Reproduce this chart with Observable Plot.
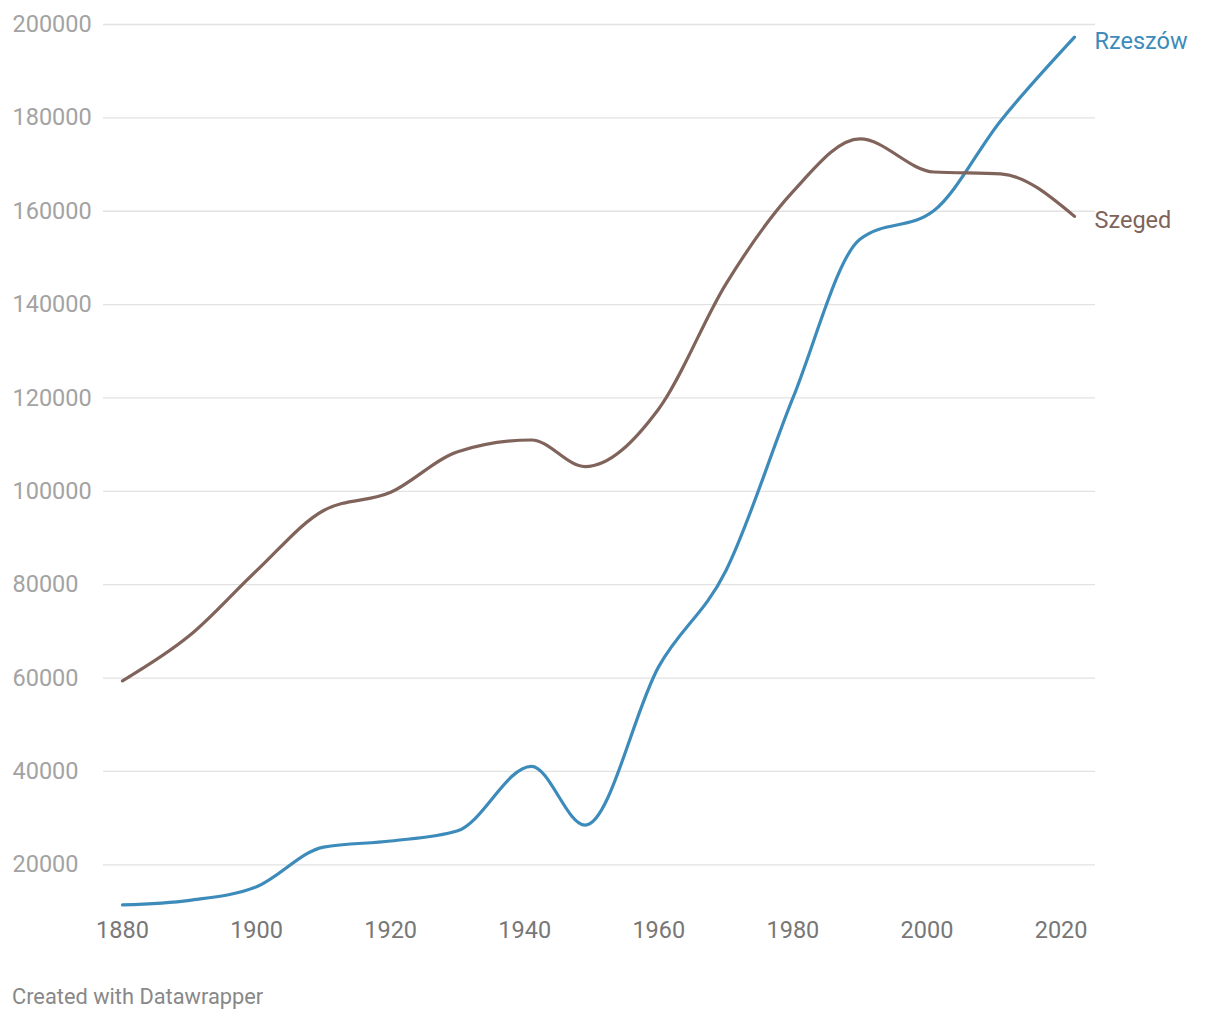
<!DOCTYPE html>
<html><head><meta charset="utf-8">
<script src="https://cdn.jsdelivr.net/npm/d3@7"></script>
<script src="https://cdn.jsdelivr.net/npm/@observablehq/plot@0.6"></script>
<style>
body{margin:0;background:#fff;font-family:Roboto,sans-serif;}
#chart{position:absolute;left:0;top:0;}
#caption{position:absolute;left:12px;top:984px;font-size:21.8px;color:#888;font-family:Roboto,sans-serif;}
</style></head><body>
<div id="chart"></div>
<div id="caption">Created with Datawrapper</div>
<script>
const years   = [1880, 1890, 1900, 1910, 1920, 1930, 1941, 1949, 1960, 1970, 1980, 1990, 2001, 2011, 2022];
const rzeszow = [11400, 12400, 15300, 23800, 25100, 27300, 41100, 28500, 62500, 83000, 120000, 154000, 160100, 179400, 197300];
const szeged  = [59400, 69100, 83000, 95900, 99800, 108500, 111000, 105300, 117700, 144400, 164200, 175500, 168400, 168000, 158900];
const seriesNames  = ["Rzeszów", "Szeged"];
const seriesColors = ["#3d8bba", "#80635b"];
const yTicks = [20000, 40000, 60000, 80000, 100000, 120000, 140000, 160000, 180000, 200000];
const xTicks = [1880, 1900, 1920, 1940, 1960, 1980, 2000, 2020];

const seriesValues = [rzeszow, szeged];
const data = seriesNames.flatMap((name, i) => years.map((year, j) => ({name, year, value: seriesValues[i][j]})));
const lastPoints = seriesNames.map((name, i) => ({name, year: years[years.length - 1], value: seriesValues[i][years.length - 1]}));

const chart = Plot.plot({
  width: 1220,
  height: 960,
  marginTop: 24,
  marginBottom: 49,
  marginLeft: 103,
  marginRight: 125,
  style: {fontFamily: "Roboto, sans-serif", background: "#fff"},
  x: {domain: [1880, 2022], insetLeft: 19, insetRight: 21, axis: null},
  y: {domain: [10000, 200000], axis: null},
  color: {domain: seriesNames, range: seriesColors},
  marks: [
    Plot.ruleY(yTicks, {stroke: "#e2e2e2", strokeWidth: 1.3}),
    Plot.text(yTicks, {y: d => d, text: d => String(d), frameAnchor: "left", textAnchor: "start", dx: -91, fill: "#a3a3a3", fontSize: 23.5}),
    Plot.axisX(xTicks, {tickSize: 0, tickPadding: 10, tickFormat: d => String(d), fontSize: 23.5, fill: "#777", label: null}),
    Plot.line(data, {x: "year", y: "value", z: "name", stroke: "name", strokeWidth: 3.2, curve: "monotone-x"}),
    Plot.text(lastPoints, {x: "year", y: "value", text: "name", fill: "name", textAnchor: "start", dx: 20, dy: 4, fontSize: 23.5})
  ]
});
document.getElementById("chart").appendChild(chart);
</script>
</body></html>
